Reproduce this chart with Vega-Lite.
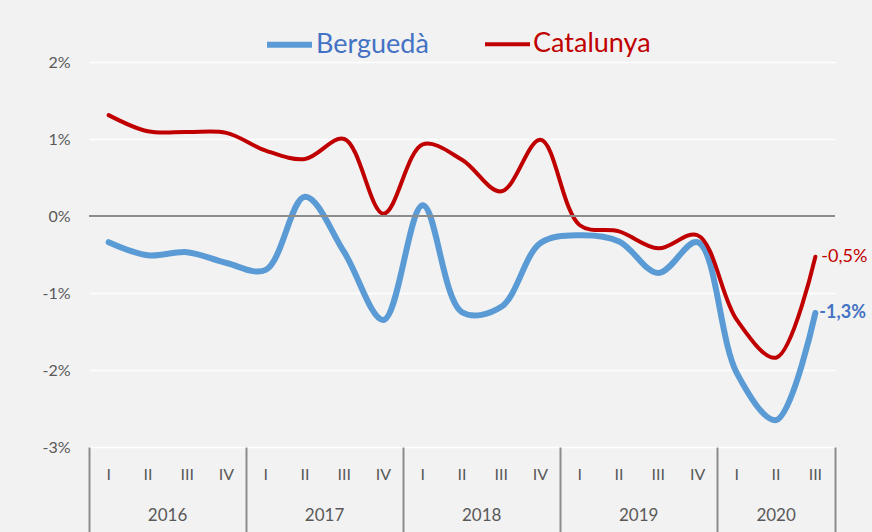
{
  "$schema": "https://vega.github.io/schema/vega-lite/v6.json",
  "width": 746,
  "height": 385,
  "autosize": {"type": "none"},
  "padding": {"left": 89, "top": 62, "right": 37, "bottom": 85},
  "background": "#f2f2f2",
  "config": {"view": {"stroke": null}, "font": "Lato"},
  "data": {
    "values": [
      {"series": "Berguedà", "t": 0, "q": "I", "year": "2016", "value": -0.34},
      {"series": "Berguedà", "t": 1, "q": "II", "year": "2016", "value": -0.51},
      {"series": "Berguedà", "t": 2, "q": "III", "year": "2016", "value": -0.47},
      {"series": "Berguedà", "t": 3, "q": "IV", "year": "2016", "value": -0.61},
      {"series": "Berguedà", "t": 4, "q": "I", "year": "2017", "value": -0.70},
      {"series": "Berguedà", "t": 5, "q": "II", "year": "2017", "value": 0.25},
      {"series": "Berguedà", "t": 6, "q": "III", "year": "2017", "value": -0.47},
      {"series": "Berguedà", "t": 7, "q": "IV", "year": "2017", "value": -1.35},
      {"series": "Berguedà", "t": 8, "q": "I", "year": "2018", "value": 0.14},
      {"series": "Berguedà", "t": 9, "q": "II", "year": "2018", "value": -1.25},
      {"series": "Berguedà", "t": 10, "q": "III", "year": "2018", "value": -1.18},
      {"series": "Berguedà", "t": 11, "q": "IV", "year": "2018", "value": -0.35},
      {"series": "Berguedà", "t": 12, "q": "I", "year": "2019", "value": -0.25},
      {"series": "Berguedà", "t": 13, "q": "II", "year": "2019", "value": -0.33},
      {"series": "Berguedà", "t": 14, "q": "III", "year": "2019", "value": -0.74},
      {"series": "Berguedà", "t": 15, "q": "IV", "year": "2019", "value": -0.34},
      {"series": "Berguedà", "t": 16, "q": "I", "year": "2020", "value": -2.04},
      {"series": "Berguedà", "t": 17, "q": "II", "year": "2020", "value": -2.65},
      {"series": "Berguedà", "t": 18, "q": "III", "year": "2020", "value": -1.26, "label": "-1,3%"},
      {"series": "Catalunya", "t": 0, "q": "I", "year": "2016", "value": 1.31},
      {"series": "Catalunya", "t": 1, "q": "II", "year": "2016", "value": 1.10},
      {"series": "Catalunya", "t": 2, "q": "III", "year": "2016", "value": 1.09},
      {"series": "Catalunya", "t": 3, "q": "IV", "year": "2016", "value": 1.08},
      {"series": "Catalunya", "t": 4, "q": "I", "year": "2017", "value": 0.85},
      {"series": "Catalunya", "t": 5, "q": "II", "year": "2017", "value": 0.74},
      {"series": "Catalunya", "t": 6, "q": "III", "year": "2017", "value": 1.0},
      {"series": "Catalunya", "t": 7, "q": "IV", "year": "2017", "value": 0.03},
      {"series": "Catalunya", "t": 8, "q": "I", "year": "2018", "value": 0.93},
      {"series": "Catalunya", "t": 9, "q": "II", "year": "2018", "value": 0.73},
      {"series": "Catalunya", "t": 10, "q": "III", "year": "2018", "value": 0.32},
      {"series": "Catalunya", "t": 11, "q": "IV", "year": "2018", "value": 0.99},
      {"series": "Catalunya", "t": 12, "q": "I", "year": "2019", "value": -0.12},
      {"series": "Catalunya", "t": 13, "q": "II", "year": "2019", "value": -0.2},
      {"series": "Catalunya", "t": 14, "q": "III", "year": "2019", "value": -0.42},
      {"series": "Catalunya", "t": 15, "q": "IV", "year": "2019", "value": -0.25},
      {"series": "Catalunya", "t": 16, "q": "I", "year": "2020", "value": -1.35},
      {"series": "Catalunya", "t": 17, "q": "II", "year": "2020", "value": -1.84},
      {"series": "Catalunya", "t": 18, "q": "III", "year": "2020", "value": -0.53, "label": "-0,5%"}
    ]
  },
  "layer": [
    {
      "mark": {"type": "line", "interpolate": "catmull-rom", "strokeCap": "round"},
      "encoding": {
        "x": {
          "field": "t", "type": "quantitative",
          "scale": {"domain": [-0.5, 18.5], "nice": false, "zero": false},
          "axis": {"values": [-0.5, 3.5, 7.5, 11.5, 15.5, 18.5], "labels": false, "domain": false, "grid": false, "tickSize": 90, "tickColor": "#8c8c8c", "tickWidth": 2, "title": null}
        },
        "y": {
          "field": "value", "type": "quantitative",
          "scale": {"domain": [-3, 2], "nice": false, "zero": false},
          "axis": {"values": [-3, -2, -1, 0, 1, 2], "labelExpr": "datum.value + '%'", "grid": true, "gridColor": "#ffffff", "gridWidth": 1.5, "domain": false, "ticks": false, "labelPadding": 19, "labelFontSize": 16, "labelColor": "#595959", "title": null}
        },
        "color": {
          "field": "series", "type": "nominal",
          "scale": {"domain": ["Berguedà", "Catalunya"], "range": ["#5B9BD5", "#C00000"]},
          "legend": {
            "orient": "none", "legendX": 175, "legendY": -43, "direction": "horizontal", "title": null,
            "symbolType": "stroke", "symbolSize": 2025, "symbolStrokeWidth": 5, "labelFontSize": 27, "labelOffset": 1, "columnPadding": 48,
            "encode": {
              "labels": {"update": {"fill": {"signal": "datum.label === 'Berguedà' ? '#4472C4' : '#C00000'"}}},
              "symbols": {"update": {"strokeWidth": {"signal": "datum.label === 'Berguedà' ? 6 : 4"}}}
            }
          }
        },
        "strokeWidth": {
          "field": "series", "type": "nominal",
          "scale": {"domain": ["Berguedà", "Catalunya"], "range": [6, 4]},
          "legend": null
        }
      }
    },
    {
      "mark": {"type": "rule", "color": "#8c8c8c", "strokeWidth": 1.5},
      "encoding": {"y": {"datum": 0}}
    },
    {
      "transform": [{"filter": "datum.series === 'Catalunya'"}],
      "mark": {"type": "text", "fontSize": 16, "color": "#595959", "baseline": "middle"},
      "encoding": {
        "x": {"field": "t", "type": "quantitative"},
        "y": {"datum": -3.36},
        "text": {"field": "q"}
      }
    },
    {
      "transform": [
        {"filter": "datum.series === 'Catalunya'"},
        {"aggregate": [{"op": "mean", "field": "t", "as": "mid"}], "groupby": ["year"]}
      ],
      "mark": {"type": "text", "fontSize": 17, "color": "#595959", "baseline": "middle"},
      "encoding": {
        "x": {"field": "mid", "type": "quantitative"},
        "y": {"datum": -3.9},
        "text": {"field": "year"}
      }
    },
    {
      "transform": [{"filter": "datum.series === 'Catalunya' && datum.label"}],
      "mark": {"type": "text", "fontSize": 18, "color": "#C00000", "align": "left", "baseline": "middle", "dx": 6},
      "encoding": {
        "x": {"field": "t", "type": "quantitative"},
        "y": {"field": "value", "type": "quantitative"},
        "text": {"field": "label"}
      }
    },
    {
      "transform": [{"filter": "datum.series === 'Berguedà' && datum.label"}],
      "mark": {"type": "text", "fontSize": 18, "fontWeight": "bold", "color": "#4472C4", "align": "left", "baseline": "middle", "dx": 4},
      "encoding": {
        "x": {"field": "t", "type": "quantitative"},
        "y": {"field": "value", "type": "quantitative"},
        "text": {"field": "label"}
      }
    }
  ]
}
